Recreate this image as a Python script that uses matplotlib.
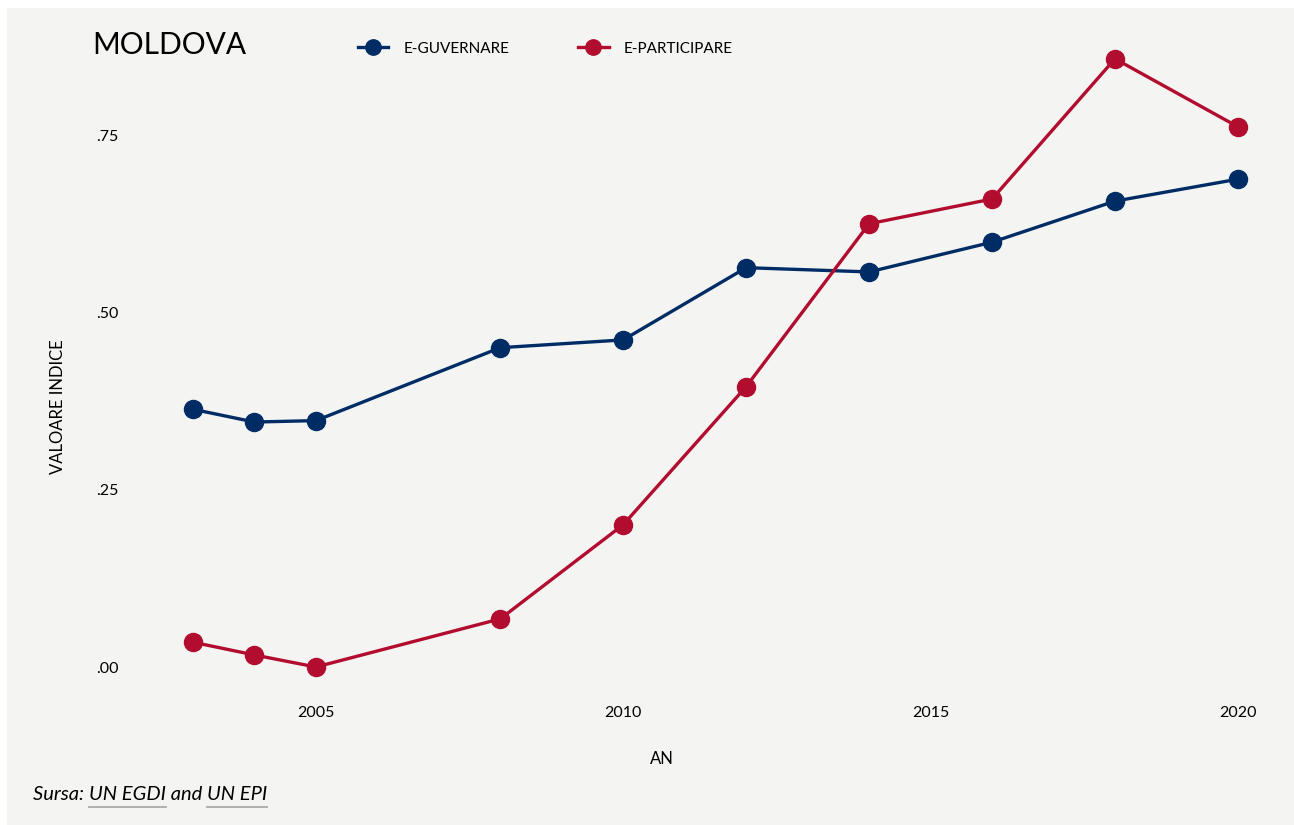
import matplotlib.pyplot as plt
from matplotlib.patches import Rectangle

plt.rcParams['font.family'] = ['Lato', 'DejaVu Sans']

years = [2003, 2004, 2005, 2008, 2010, 2012, 2014, 2016, 2018, 2020]
e_guvernare = [0.364, 0.346, 0.348, 0.451, 0.462, 0.564, 0.558, 0.600, 0.658, 0.689]
e_participare = [0.035, 0.017, 0.000, 0.068, 0.201, 0.396, 0.626, 0.661, 0.859, 0.763]
yticks = [0.0, 0.25, 0.50, 0.75]
ytick_labels = ['.00', '.25', '.50', '.75']
xticks = [2005, 2010, 2015, 2020]

blue = '#002c66'
red = '#b20c2e'
bg = '#f4f4f2'

fig = plt.figure(figsize=(12.94, 8.25), dpi=100)
fig.patches.append(Rectangle((7 / 1294, 0), 1, 1 - 8 / 825, transform=fig.transFigure,
                             facecolor=bg, edgecolor='none', zorder=-10))

ax = fig.add_axes([0.1016, 0.1486, 0.8788, 0.8153])
ax.set_facecolor('none')
ax.plot(years, e_guvernare, color=blue, lw=2.4, marker='o', ms=13, label='E-GUVERNARE')
ax.plot(years, e_participare, color=red, lw=2.4, marker='o', ms=13, label='E-PARTICIPARE')

ax.set_xlim(2002, 2020.5)
ax.set_ylim(-0.05, 0.9)
ax.set_xticks(xticks)
ax.set_xticklabels([str(x) for x in xticks], fontsize=11.5)
ax.set_yticks(yticks)
ax.set_yticklabels(ytick_labels, fontsize=11.5)
ax.tick_params(axis='x', length=0, pad=2.5)
ax.tick_params(axis='y', length=0, pad=9.5)
for s in ax.spines.values():
    s.set_visible(False)

fig.text(662 / 1294, 1 - 759 / 825, 'AN', ha='center', va='center', fontsize=12)
fig.text(58 / 1294, 1 - 407 / 825, 'VALOARE INDICE', ha='center', va='center',
         rotation=90, fontsize=12)
fig.text(92 / 1294, 1 - 45 / 825, 'MOLDOVA', ha='left', va='center', fontsize=21.5)

leg = ax.legend(loc='upper left', bbox_to_anchor=(344 / 1294, 1 - 28 / 825),
                bbox_transform=fig.transFigure, ncol=2, frameon=False, fontsize=11,
                handlelength=2.0, handletextpad=1.0, columnspacing=4.5, markerscale=0.85)

t = fig.text(33 / 1294, 1 - 795 / 825, 'Sursa: ', ha='left', va='center', fontsize=14.5,
             style='italic')
fig.canvas.draw()
r = fig.canvas.get_renderer()
x = t.get_window_extent(r).x1
parts = [('UN EGDI', True), (' and ', False), ('UN EPI', True)]
for txt, link in parts:
    tt = fig.text(x / 1294, 1 - 795 / 825, txt, ha='left', va='center', fontsize=14.5,
                  style='italic')
    bb = tt.get_window_extent(r)
    if link:
        fig.add_artist(plt.Line2D([bb.x0 / 1294, bb.x1 / 1294],
                                  [(bb.y0 - 3) / 825, (bb.y0 - 3) / 825],
                                  transform=fig.transFigure, color='#aaaaaa', lw=1.3))
    x = bb.x1

fig.savefig('out.png', dpi=100)
